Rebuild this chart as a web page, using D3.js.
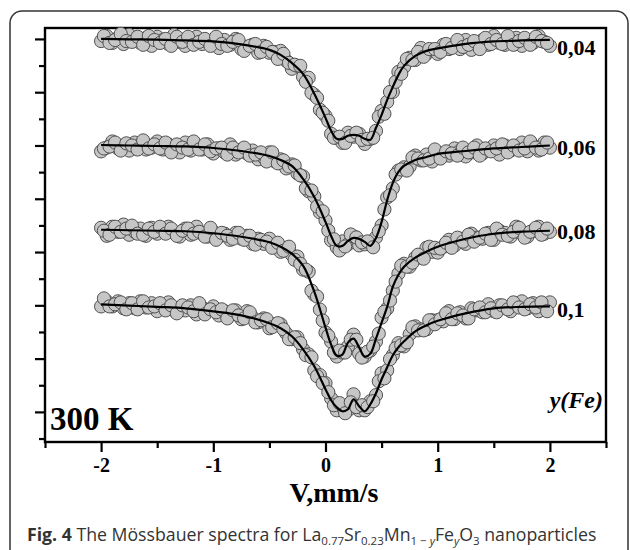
<!DOCTYPE html>
<html>
<head>
<meta charset="utf-8">
<script src="https://cdn.jsdelivr.net/npm/d3@7"></script>
<style>
  body { margin: 0; background: #fff; }
  svg { display: block; }
</style>
</head>
<body>
<div id="svg-area"></div>
<script>
var svgWidth = 630;
var svgHeight = 550;

// y(Fe) of each spectrum, and how far each spectrum is shifted up
var seriesNames = ["0,04", "0,06", "0,08", "0,1"];
var seriesOffsets = [0.10, 0.06, 0.028, 0];
var labelLevels = [1.0940, 1.0564, 1.0249, 0.9956];

var xTicks = [-2, -1, 0, 1, 2];
var xTickLabels = ["-2", "-1", "0", "1", "2"];
var xMinorTicks = [-2.5, -1.5, -0.5, 0.5, 1.5, 2.5];
var yTicks = [0.96, 0.98, 1.00, 1.02, 1.04, 1.06, 1.08, 1.10];
var yMinorTicks = [0.95, 0.97, 0.99, 1.01, 1.03, 1.05, 1.07, 1.09];

// channel velocities, mm/s (two interleaved sets of channels)
var pointVelocity = [-2, -1.95, -1.9, -1.85, -1.8, -1.75, -1.7, -1.65, -1.6, -1.55,
  -1.5, -1.45, -1.4, -1.35, -1.3, -1.25, -1.2, -1.15, -1.1, -1.05,
  -1, -0.95, -0.9, -0.85, -0.8, -0.75, -0.7, -0.65, -0.6, -0.55,
  -0.5, -0.45, -0.4, -0.35, -0.3, -0.25, -0.2, -0.15, -0.1, -0.05,
  0, 0.05, 0.1, 0.15, 0.2, 0.25, 0.3, 0.35, 0.4, 0.45,
  0.5, 0.55, 0.6, 0.65, 0.7, 0.75, 0.8, 0.85, 0.9, 0.95,
  1, 1.05, 1.1, 1.15, 1.2, 1.25, 1.3, 1.35, 1.4, 1.45,
  1.5, 1.55, 1.6, 1.65, 1.7, 1.75, 1.8, 1.85, 1.9, 1.95, 2];
var pointVelocity2 = [-1.975, -1.925, -1.875, -1.825, -1.775, -1.725, -1.675, -1.625, -1.575, -1.525,
  -1.475, -1.425, -1.375, -1.325, -1.275, -1.225, -1.175, -1.125, -1.075, -1.025,
  -0.975, -0.925, -0.875, -0.825, -0.775, -0.725, -0.675, -0.625, -0.575, -0.525,
  -0.475, -0.425, -0.375, -0.325, -0.275, -0.225, -0.175, -0.125, -0.075, -0.025,
  0.025, 0.075, 0.125, 0.175, 0.225, 0.275, 0.325, 0.375, 0.425, 0.475,
  0.525, 0.575, 0.625, 0.675, 0.725, 0.775, 0.825, 0.875, 0.925, 0.975,
  1.025, 1.075, 1.125, 1.175, 1.225, 1.275, 1.325, 1.375, 1.425, 1.475,
  1.525, 1.575, 1.625, 1.675, 1.725, 1.775, 1.825, 1.875, 1.925, 1.975];

// relative transmission, measured points
var points004 = [0.9992, 1.0011, 0.9985, 1.0004, 0.9981, 1.0015, 0.9992, 0.9985, 1.0004, 0.9974,
  1.0008, 0.9996, 0.9981, 1.0015, 0.9989, 0.9974, 0.9996, 1.0008, 0.9981, 0.9989,
  0.9996, 0.9966, 0.9996, 0.9978, 1.0000, 0.9962, 0.9970, 0.9978, 0.9948, 0.9974,
  0.9948, 0.9951, 0.9955, 0.9918, 0.9888, 0.9899, 0.9858, 0.9854, 0.9790, 0.9734,
  0.9711, 0.9644, 0.9629, 0.9610, 0.9648, 0.9633, 0.9644, 0.9606, 0.9625, 0.9655,
  0.9730, 0.9764, 0.9801, 0.9876, 0.9895, 0.9929, 0.9921, 0.9966, 0.9944, 0.9959,
  0.9944, 0.9978, 0.9962, 0.9978, 0.9962, 0.9996, 0.9959, 0.9981, 0.9996, 0.9978,
  1.0011, 0.9985, 0.9978, 0.9996, 1.0004, 0.9974, 0.9996, 0.9985, 1.0011, 0.9989, 0.9974];
var points004b = [1.0011, 0.9985, 0.9996, 1.0019, 0.9992, 0.9989, 1.0008, 0.9978, 1.0011, 0.9996,
  0.9985, 1.0000, 0.9974, 1.0008, 0.9989, 1.0008, 0.9978, 0.9989, 1.0000, 0.9974,
  1.0008, 0.9981, 0.9974, 0.9989, 0.9996, 0.9955, 0.9974, 0.9981, 0.9951, 0.9970,
  0.9951, 0.9925, 0.9944, 0.9910, 0.9903, 0.9899, 0.9839, 0.9798, 0.9779, 0.9723,
  0.9693, 0.9629, 0.9633, 0.9610, 0.9636, 0.9648, 0.9621, 0.9625, 0.9629, 0.9708,
  0.9719, 0.9801, 0.9839, 0.9869, 0.9925, 0.9921, 0.9951, 0.9933, 0.9962, 0.9962,
  0.9951, 0.9981, 0.9966, 0.9996, 0.9970, 0.9978, 0.9992, 0.9962, 1.0004, 0.9981,
  0.9996, 0.9981, 1.0011, 0.9978, 0.9992, 1.0004, 0.9978, 1.0008, 0.9992, 0.9985];

var points006 = [0.9978, 0.9992, 1.0015, 0.9989, 1.0000, 0.9981, 1.0011, 1.0004, 0.9985, 0.9992,
  1.0015, 0.9985, 1.0004, 0.9992, 0.9974, 1.0011, 0.9981, 0.9996, 0.9985, 1.0004,
  0.9970, 0.9989, 0.9974, 1.0004, 0.9966, 0.9985, 0.9970, 0.9981, 0.9948, 0.9955,
  0.9974, 0.9940, 0.9948, 0.9914, 0.9929, 0.9895, 0.9884, 0.9828, 0.9809, 0.9749,
  0.9719, 0.9644, 0.9618, 0.9640, 0.9629, 0.9659, 0.9625, 0.9629, 0.9636, 0.9655,
  0.9700, 0.9805, 0.9839, 0.9906, 0.9918, 0.9921, 0.9962, 0.9944, 0.9966, 0.9940,
  0.9974, 0.9966, 0.9962, 0.9989, 0.9981, 0.9959, 0.9974, 1.0000, 0.9970, 0.9985,
  1.0000, 0.9966, 1.0000, 0.9981, 0.9989, 1.0011, 0.9978, 1.0000, 0.9981, 1.0011, 0.9992];
var points006b = [0.9989, 0.9996, 1.0011, 0.9981, 1.0008, 1.0000, 0.9985, 1.0019, 0.9989, 1.0004,
  0.9989, 1.0011, 0.9974, 1.0004, 0.9992, 0.9985, 1.0015, 0.9985, 1.0004, 0.9978,
  0.9989, 0.9992, 0.9966, 0.9992, 0.9974, 0.9992, 0.9962, 0.9966, 0.9974, 0.9940,
  0.9974, 0.9933, 0.9944, 0.9921, 0.9925, 0.9888, 0.9839, 0.9831, 0.9771, 0.9753,
  0.9681, 0.9648, 0.9606, 0.9621, 0.9666, 0.9655, 0.9636, 0.9640, 0.9618, 0.9678,
  0.9760, 0.9813, 0.9891, 0.9910, 0.9906, 0.9955, 0.9951, 0.9944, 0.9951, 0.9985,
  0.9951, 0.9978, 0.9970, 0.9962, 0.9992, 0.9974, 0.9992, 0.9962, 0.9989, 0.9978,
  0.9989, 1.0004, 0.9974, 1.0000, 0.9981, 0.9989, 1.0015, 0.9992, 0.9985, 1.0011];

var points008 = [1.0011, 0.9981, 1.0015, 0.9996, 1.0023, 0.9985, 0.9996, 1.0008, 0.9981, 1.0011,
  0.9989, 1.0004, 1.0015, 0.9992, 0.9978, 1.0008, 0.9985, 1.0015, 0.9989, 0.9978,
  0.9996, 0.9978, 0.9989, 0.9966, 0.9992, 0.9970, 0.9981, 0.9951, 0.9970, 0.9951,
  0.9970, 0.9940, 0.9921, 0.9936, 0.9910, 0.9903, 0.9854, 0.9846, 0.9760, 0.9704,
  0.9618, 0.9584, 0.9528, 0.9543, 0.9565, 0.9610, 0.9539, 0.9528, 0.9550, 0.9584,
  0.9674, 0.9708, 0.9775, 0.9839, 0.9876, 0.9865, 0.9899, 0.9899, 0.9936, 0.9921,
  0.9918, 0.9940, 0.9966, 0.9944, 0.9970, 0.9951, 0.9989, 0.9974, 0.9970, 0.9992,
  0.9966, 1.0000, 0.9992, 0.9978, 1.0015, 0.9989, 0.9978, 1.0000, 1.0015, 0.9989, 0.9996];
var points008b = [1.0000, 0.9985, 1.0015, 0.9996, 1.0008, 1.0019, 0.9989, 0.9985, 1.0008, 0.9996,
  1.0015, 0.9989, 1.0008, 0.9981, 1.0000, 1.0008, 0.9989, 0.9996, 0.9978, 1.0011,
  0.9966, 0.9992, 0.9981, 0.9970, 0.9992, 0.9966, 0.9981, 0.9948, 0.9966, 0.9959,
  0.9936, 0.9955, 0.9925, 0.9940, 0.9891, 0.9876, 0.9854, 0.9775, 0.9753, 0.9663,
  0.9606, 0.9543, 0.9550, 0.9543, 0.9591, 0.9591, 0.9524, 0.9546, 0.9565, 0.9614,
  0.9696, 0.9738, 0.9809, 0.9869, 0.9865, 0.9880, 0.9910, 0.9895, 0.9940, 0.9936,
  0.9933, 0.9955, 0.9936, 0.9974, 0.9959, 0.9985, 0.9959, 0.9974, 0.9989, 0.9966,
  1.0008, 0.9985, 0.9981, 0.9996, 1.0011, 0.9974, 0.9996, 1.0011, 0.9985, 1.0008];

var points01 = [0.9996, 1.0015, 0.9996, 1.0015, 0.9989, 1.0008, 0.9989, 1.0015, 0.9992, 1.0008,
  0.9978, 1.0000, 1.0011, 0.9981, 0.9992, 0.9981, 1.0000, 0.9966, 0.9992, 0.9981,
  0.9996, 0.9962, 0.9978, 0.9966, 0.9981, 0.9948, 0.9978, 0.9955, 0.9936, 0.9951,
  0.9914, 0.9929, 0.9929, 0.9895, 0.9873, 0.9880, 0.9835, 0.9816, 0.9756, 0.9738,
  0.9708, 0.9651, 0.9606, 0.9618, 0.9606, 0.9666, 0.9606, 0.9606, 0.9640, 0.9663,
  0.9745, 0.9756, 0.9813, 0.9858, 0.9846, 0.9891, 0.9921, 0.9910, 0.9910, 0.9944,
  0.9944, 0.9940, 0.9978, 0.9948, 0.9974, 0.9951, 0.9989, 0.9981, 0.9974, 1.0004,
  0.9978, 1.0000, 0.9989, 0.9978, 1.0000, 1.0015, 0.9989, 1.0008, 0.9978, 1.0000, 1.0011];
var points01b = [1.0026, 0.9996, 1.0004, 1.0011, 0.9985, 1.0008, 0.9985, 1.0015, 0.9992, 0.9996,
  1.0008, 0.9981, 1.0000, 0.9970, 1.0000, 0.9992, 0.9978, 1.0008, 0.9966, 0.9985,
  0.9974, 0.9985, 0.9951, 0.9981, 0.9962, 0.9951, 0.9974, 0.9936, 0.9944, 0.9948,
  0.9918, 0.9933, 0.9910, 0.9873, 0.9880, 0.9858, 0.9813, 0.9805, 0.9734, 0.9708,
  0.9674, 0.9625, 0.9633, 0.9595, 0.9636, 0.9618, 0.9625, 0.9618, 0.9640, 0.9715,
  0.9726, 0.9798, 0.9839, 0.9850, 0.9861, 0.9918, 0.9906, 0.9906, 0.9944, 0.9929,
  0.9948, 0.9970, 0.9948, 0.9970, 0.9962, 0.9951, 0.9985, 0.9992, 0.9974, 0.9989,
  0.9974, 1.0000, 0.9985, 1.0011, 0.9992, 0.9985, 1.0004, 0.9992, 1.0011, 0.9978];

// fitted curves
var fitVelocity = [-2, -1.75, -1.5, -1.25, -1, -0.75, -0.5, -0.4, -0.3, -0.2, -0.1, 0, 0.05, 0.1, 0.15,
  0.2, 0.25, 0.3, 0.35, 0.4, 0.45, 0.5, 0.55, 0.6, 0.65, 0.7, 0.8, 0.9, 1, 1.25, 1.5, 1.75, 2];

var fit004 = [1.00000, 0.99985, 0.99970, 0.99944, 0.99906, 0.99794, 0.99588, 0.99400, 0.99100, 0.98688,
  0.97938, 0.97038, 0.96550, 0.96250, 0.96250, 0.96363, 0.96400, 0.96363, 0.96250, 0.96213,
  0.96663, 0.97150, 0.97713, 0.98200, 0.98650, 0.98988, 0.99363, 0.99550, 0.99644, 0.99813,
  0.99906, 0.99944, 0.99963];
var fit006 = [1.00019, 1.00000, 0.99981, 0.99963, 0.99906, 0.99794, 0.99606, 0.99456, 0.99231, 0.98744,
  0.98069, 0.97131, 0.96606, 0.96231, 0.96231, 0.96419, 0.96531, 0.96494, 0.96381, 0.96231,
  0.96531, 0.97131, 0.97956, 0.98594, 0.99006, 0.99231, 0.99456, 0.99569, 0.99681, 0.99794,
  0.99888, 0.99944, 1.00000];
var fit008 = [1.00038, 1.00019, 1.00000, 0.99981, 0.99906, 0.99775, 0.99569, 0.99400, 0.99138, 0.98688,
  0.97713, 0.96363, 0.95725, 0.95313, 0.95350, 0.95800, 0.95950, 0.95613, 0.95275, 0.95388,
  0.95950, 0.96550, 0.97150, 0.97900, 0.98350, 0.98650, 0.98988, 0.99213, 0.99400, 0.99700,
  0.99888, 0.99963, 1.00000];
var fit01 = [1.00038, 0.99991, 0.99944, 0.99888, 0.99775, 0.99625, 0.99325, 0.99138, 0.98838, 0.98350,
  0.97713, 0.96850, 0.96438, 0.96175, 0.96025, 0.96100, 0.96475, 0.96213, 0.96025, 0.96288,
  0.96700, 0.97225, 0.97675, 0.98125, 0.98425, 0.98650, 0.99025, 0.99250, 0.99419, 0.99700,
  0.99888, 0.99944, 0.99963];

var allPoints = [points004, points006, points008, points01];
var allPoints2 = [points004b, points006b, points008b, points01b];
var allFits = [fit004, fit006, fit008, fit01];

var serif = "'Liberation Serif', 'Times New Roman', serif";

var svg = d3.select("#svg-area")
  .append("svg")
  .attr("width", svgWidth)
  .attr("height", svgHeight);

// rounded figure frame
svg.append("rect")
  .attr("x", 10).attr("y", 11)
  .attr("width", 618).attr("height", 600)
  .attr("rx", 12)
  .attr("fill", "none")
  .attr("stroke", "#333")
  .attr("stroke-width", 1.5);

var plot = { left: 45, right: 606, top: 28, bottom: 442 };

var xScale = d3.scaleLinear().domain([-2.5, 2.5]).range([plot.left, plot.right]);
var yScale = d3.scaleLinear().domain([0.9487, 1.1041]).range([plot.bottom, plot.top]);

// axes: majors + minors, outward ticks
var xAxis = d3.axisBottom(xScale)
  .tickValues(xTicks)
  .tickFormat(function(d, i) { return xTickLabels[i]; })
  .tickSize(10).tickPadding(6).tickSizeOuter(0);
var xMinor = d3.axisBottom(xScale).tickValues(xMinorTicks).tickFormat("").tickSize(6).tickSizeOuter(0);
var yAxis = d3.axisLeft(yScale).tickValues(yTicks).tickFormat("").tickSize(10).tickSizeOuter(0);
var yMinor = d3.axisLeft(yScale).tickValues(yMinorTicks).tickFormat("").tickSize(6).tickSizeOuter(0);

var gx = svg.append("g").attr("transform", "translate(0," + plot.bottom + ")").call(xAxis);
var gxm = svg.append("g").attr("transform", "translate(0," + plot.bottom + ")").call(xMinor);
var gy = svg.append("g").attr("transform", "translate(" + plot.left + ",0)").call(yAxis);
var gym = svg.append("g").attr("transform", "translate(" + plot.left + ",0)").call(yMinor);

[gx, gxm, gy, gym].forEach(function(g) {
  g.select(".domain").remove();
  g.selectAll("line").attr("stroke", "#000").attr("stroke-width", 2.2);
});
gx.selectAll("text")
  .attr("fill", "#000")
  .style("font-family", serif)
  .style("font-weight", "bold")
  .style("font-size", "20px");

// plot frame
svg.append("rect")
  .attr("x", plot.left).attr("y", plot.top)
  .attr("width", plot.right - plot.left)
  .attr("height", plot.bottom - plot.top)
  .attr("fill", "none")
  .attr("stroke", "#000")
  .attr("stroke-width", 2.4);

var line = d3.line()
  .x(function(d) { return xScale(d[0]); })
  .y(function(d) { return yScale(d[1]); })
  .curve(d3.curveCatmullRom.alpha(0.5));

function drawPoints(series, velocities, off) {
  svg.append("g")
    .selectAll("circle")
    .data(series)
    .enter()
    .append("circle")
    .attr("cx", function(d, i) { return xScale(velocities[i]); })
    .attr("cy", function(d) { return yScale(d + off); })
    .attr("r", 6.6)
    .attr("fill", "#c6c6c6")
    .attr("stroke", "#505050")
    .attr("stroke-width", 1);
}

allPoints.forEach(function(series, s) {
  var off = seriesOffsets[s];

  drawPoints(series, pointVelocity, off);
  drawPoints(allPoints2[s], pointVelocity2, off);

  var fitData = allFits[s].map(function(t, i) { return [fitVelocity[i], t + off]; });
  svg.append("path")
    .attr("d", line(fitData))
    .attr("fill", "none")
    .attr("stroke", "#000")
    .attr("stroke-width", 2.2);

  svg.append("text")
    .attr("x", 557)
    .attr("y", yScale(labelLevels[s]))
    .attr("font-family", serif)
    .attr("font-weight", "bold")
    .attr("font-size", 22)
    .text(seriesNames[s]);
});

svg.append("text")
  .attr("x", 603).attr("y", 408)
  .attr("text-anchor", "end")
  .attr("font-family", serif)
  .attr("font-weight", "bold")
  .attr("font-style", "italic")
  .attr("font-size", 24)
  .text("y(Fe)");

svg.append("text")
  .attr("x", 50).attr("y", 430)
  .attr("font-family", serif)
  .attr("font-weight", "bold")
  .attr("font-size", 33)
  .text("300 K");

svg.append("text")
  .attr("x", 334).attr("y", 502)
  .attr("text-anchor", "middle")
  .attr("font-family", serif)
  .attr("font-weight", "bold")
  .attr("font-size", 28)
  .text("V,mm/s");

// caption
var cap = svg.append("text")
  .attr("x", 27).attr("y", 541)
  .attr("font-family", "'Open Sans', sans-serif")
  .attr("font-size", 17.7)
  .attr("fill", "#333");
cap.append("tspan").attr("font-weight", "bold").text("Fig. 4");
cap.append("tspan").text(" The Mössbauer spectra for La");
cap.append("tspan").attr("font-size", 11.5).attr("dy", 4).text("0.77");
cap.append("tspan").attr("dy", -4).text("Sr");
cap.append("tspan").attr("font-size", 11.5).attr("dy", 4).text("0.23");
cap.append("tspan").attr("dy", -4).text("Mn");
cap.append("tspan").attr("font-size", 11.5).attr("dy", 4).text("1 − ");
cap.append("tspan").attr("font-size", 11.5).attr("font-style", "italic").text("y");
cap.append("tspan").attr("dy", -4).text("Fe");
cap.append("tspan").attr("font-size", 11.5).attr("font-style", "italic").attr("dy", 4).text("y");
cap.append("tspan").attr("dy", -4).text("O");
cap.append("tspan").attr("font-size", 11.5).attr("dy", 4).text("3");
cap.append("tspan").attr("dy", -4).text(" nanoparticles");
</script>
</body>
</html>
